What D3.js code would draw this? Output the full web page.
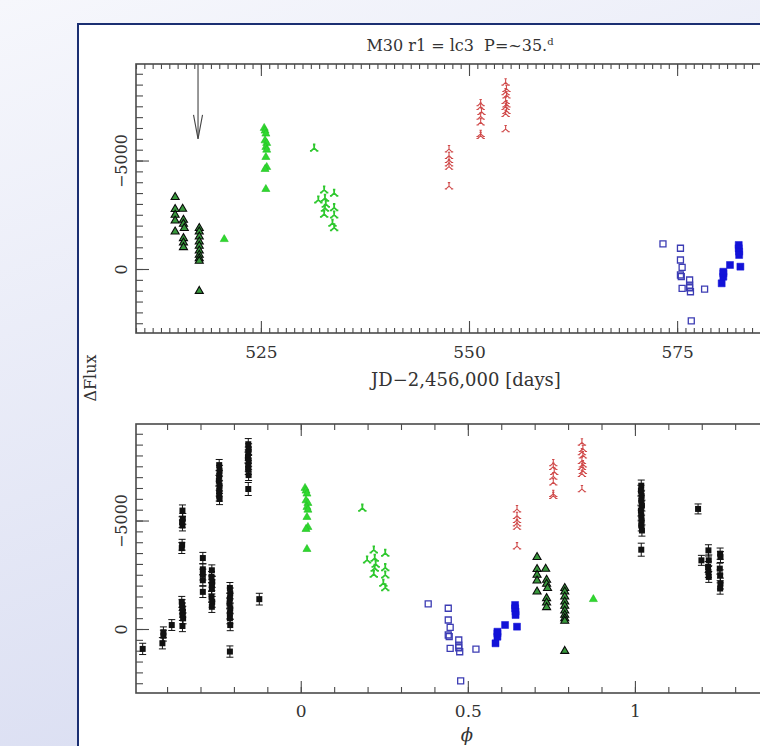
<!DOCTYPE html>
<html>
<head>
<meta charset="utf-8">
<script src="https://cdn.jsdelivr.net/npm/d3@7"></script>
<style>
  body { margin: 0; overflow: hidden; background: #fff; }
  text { font-family: "DejaVu Serif", serif; fill: #333; }
</style>
</head>
<body>
<script>
// ---- chart values ----
var period = 35.0, epoch = 524.95;
var arrowJD = 517.45, arrowFlux = -6000;

// dark green triangles (outlined)
var dkGreenJD   = [514.7, 514.7, 514.7, 514.7, 514.7,
                   515.6, 515.7, 515.7, 515.8, 515.7, 515.7, 515.7,
                   517.6, 517.6, 517.6, 517.6, 517.6, 517.6, 517.6, 517.6, 517.6, 517.6];
var dkGreenFlux = [-3310, -2756, -2493, -2230, -1722,
                   -2770, -2262, -2078, -1879, -1417, -1214, -1002,
                   -1879, -1722, -1491, -1260, -1062, -845, -646, -494, -369, 1016];

// bright green filled triangles
var grTriJD   = [520.6, 525.4, 525.5, 525.6, 525.5, 525.7, 525.6, 525.7, 525.6, 525.7, 525.5, 525.6];
var grTriFlux = [-1371, -6496, -6371, -6233, -5923, -5803, -5619, -5494, -5157, -4695, -4603, -3680];

// bright green tri-leg marks
var grLegJD   = [531.4, 532.6, 533.8, 531.9, 532.7, 532.8, 532.7, 533.8, 532.6, 533.8, 533.6, 533.8];
var grLegFlux = [-5573, -3647, -3495, -3186, -3264, -2987, -2802, -2830, -2525, -2493, -2110, -1907];

// red tri-leg marks
var redJD   = [547.6, 547.6, 547.6, 547.6, 547.6, 547.6,
               551.4, 551.4, 551.5, 551.4, 551.4, 551.4, 551.4,
               554.4, 554.5, 554.4, 554.5, 554.4, 554.5, 554.4, 554.5, 554.4, 554.4];
var redFlux = [-5526, -5217, -5032, -4880, -4723, -3818,
               -7650, -7479, -7248, -7031, -6764, -6233, -6140,
               -8601, -8310, -8158, -8010, -7756, -7595, -7479, -7294, -7156, -6450];

// blue open squares
var bOpenJD   = [573.3, 575.4, 575.4, 575.6, 575.4, 575.5, 575.6, 576.5, 576.5, 576.5, 576.6, 578.3, 576.7];
var bOpenFlux = [-1154, -956, -416, -78, 277, 355, 891, 508, 739, 863, 1048, 923, 2387];

// blue filled squares
var bFillJD   = [580.35, 580.55, 580.55, 580.55, 581.35, 582.4, 582.4, 582.45, 582.45, 582.6];
var bFillFlux = [660, 355, 198, 125, -185, -1108, -956, -800, -646, -108];

// black squares with error bars (phase panel only)
var blkPhase = [-0.473, -0.414, -0.411, -0.411, -0.386,
                -0.356, -0.355, -0.354, -0.353, -0.354, -0.352, -0.354,
                -0.356, -0.355, -0.354, -0.355, -0.353, -0.354,
                -0.293, -0.293, -0.293, -0.293, -0.293,
                -0.266, -0.267, -0.265, -0.266, -0.266, -0.267, -0.265, -0.266,
                -0.244, -0.243, -0.244, -0.245, -0.243, -0.244, -0.244, -0.243,
                -0.212, -0.211, -0.212, -0.213, -0.211, -0.212, -0.212, -0.211, -0.212,
                -0.157, -0.156, -0.157, -0.158, -0.156, -0.157, -0.157, -0.156, -0.157,
                -0.124,
                1.019, 1.018, 1.020, 1.019, 1.021, 1.018, 1.019, 1.020, 1.019, 1.021, 1.019,
                1.189, 1.199,
                1.220, 1.221, 1.219, 1.220, 1.221,
                1.255, 1.256, 1.254, 1.255, 1.256, 1.255];
var blkFlux  = [917, 657, 306, 153, -183,
                -1252, -1101, -948, -795, -642, -490, -138,
                -3730, -3884, -4771, -4924, -5076, -5459,
                -3271, -2752, -2509, -2248, -1711,
                -2706, -2399, -2170, -2018, -1867, -1482, -1252, -1023,
                -7555, -7294, -7064, -6835, -6606, -6376, -6147, -5994,
                -1894, -1638, -1408, -1179, -950, -720, -491, -183, 1040,
                -8518, -8289, -8135, -7905, -7752, -7523, -7370, -7095, -6454,
                -1376,
                -6606, -6376, -6147, -5917, -5688, -5459, -5229, -5000, -4771, -4541, -3656,
                -5535, -3165,
                -3624, -3165, -2859, -2629, -2399,
                -3472, -3317, -2783, -2477, -2096, -1867];
var blkErr   = [260, 260, 250, 250, 250,
                250, 250, 250, 250, 250, 250, 260,
                250, 250, 250, 250, 250, 260,
                260, 250, 250, 250, 260,
                250, 250, 250, 250, 250, 250, 250, 260,
                260, 250, 250, 250, 250, 250, 250, 260,
                250, 250, 250, 250, 250, 250, 250, 260, 260,
                260, 250, 250, 250, 250, 250, 250, 250, 300,
                270,
                260, 250, 250, 250, 250, 250, 250, 250, 250, 260, 300,
                230, 230,
                260, 250, 250, 250, 250,
                260, 250, 250, 250, 250, 260];

// axis ticks and labels
var jdMajor = [525, 550, 575];
var phMajor = [0, 0.5, 1, 1.5];
var phLabelled = [0, 0.5, 1];
var fluxMajor = [-5000, 0];
var titleMain = "M30 r1 = lc3  P=~35.";
var titleSup = "d";
var xLabelTop = "JD\u22122,456,000 [days]";
var xLabelBot = "\u03D5";
var yLabel = "\u0394Flux";

// ---- helpers ----
function zip(a, b) { return a.map(function(v, i){ return { x: v, f: b[i] }; }); }
function phase(jd) { var p = (jd - epoch) / period; return p - Math.floor(p); }
function range(a, b, s) { var out = []; for (var v = a; v <= b + 1e-9; v += s) out.push(+v.toFixed(4)); return out; }

var legPath = "M0,-3.6L0,0L-3,2.7M0,0L3,2.7M-1.2,-3.6L1.2,-3.6M-4.2,2.7L-2,2.7M2,2.7L4.2,2.7";
var triPath = d3.symbol().type(d3.symbolTriangle).size(28)();

var svg = d3.select("body").append("svg")
  .attr("width", 760).attr("height", 746);

var defs = svg.append("defs");
var grad = defs.append("linearGradient").attr("id", "bg")
  .attr("x1", 0).attr("y1", 0).attr("x2", 0.35).attr("y2", 1);
grad.append("stop").attr("offset", 0).attr("stop-color", "#f6f7fc");
grad.append("stop").attr("offset", 1).attr("stop-color", "#dadef2");

svg.append("rect").attr("width", 760).attr("height", 746).attr("fill", "url(#bg)");
svg.append("rect").attr("x", 78).attr("y", 24).attr("width", 800).attr("height", 800)
  .attr("fill", "#fff").attr("stroke", "#1b2f72").attr("stroke-width", 2);

// ---- frames ----
function frame(g, x, y, top, bot, left, right, xMinor, yMinor, xMinLen, xFmt) {
  var ax = "#4a4a4a";
  function style(sel) {
    sel.select(".domain").remove();
    sel.selectAll("line").attr("stroke", ax).attr("stroke-width", 1.1);
  }
  // bottom
  g.append("g").attr("transform", "translate(0," + bot + ")")
    .call(d3.axisBottom(x).tickValues(xMinor).tickSize(-xMinLen).tickFormat("")).call(style);
  var xb = g.append("g").attr("transform", "translate(0," + bot + ")")
    .call(d3.axisBottom(x).tickValues(xFmt.ticks).tickSize(-12).tickFormat(xFmt.fmt)).call(style);
  xb.selectAll("text").filter(function(d){ return xFmt.labelled.indexOf(d) < 0; }).remove();
  xb.selectAll("text").attr("y", xFmt.dy).attr("dy", null)
    .style("font-size", "17px").style("font-family", "DejaVu Serif").attr("fill", "#333");
  // top
  g.append("g").attr("transform", "translate(0," + top + ")")
    .call(d3.axisTop(x).tickValues(xMinor).tickSize(-xMinLen).tickFormat("")).call(style);
  g.append("g").attr("transform", "translate(0," + top + ")")
    .call(d3.axisTop(x).tickValues(xFmt.ticks).tickSize(-12).tickFormat("")).call(style);
  // left
  g.append("g").attr("transform", "translate(" + left + ",0)")
    .call(d3.axisLeft(y).tickValues(yMinor).tickSize(-7).tickFormat("")).call(style);
  var yl = g.append("g").attr("transform", "translate(" + left + ",0)")
    .call(d3.axisLeft(y).tickValues(fluxMajor).tickSize(-13).tickFormat(d3.format("d"))).call(style);
  yl.selectAll("text").attr("x", null).attr("dy", null)
    .attr("transform", "translate(-9,0) rotate(-90)").attr("text-anchor", "middle")
    .style("font-size", "16px").style("font-family", "DejaVu Serif").attr("fill", "#333");
  // right
  g.append("g").attr("transform", "translate(" + right + ",0)")
    .call(d3.axisRight(y).tickValues(yMinor).tickSize(-7).tickFormat("")).call(style);
  g.append("g").attr("transform", "translate(" + right + ",0)")
    .call(d3.axisRight(y).tickValues(fluxMajor).tickSize(-13).tickFormat("")).call(style);
  g.append("rect").attr("x", left).attr("y", top).attr("width", right - left).attr("height", bot - top)
    .attr("fill", "none").attr("stroke", ax).attr("stroke-width", 1.6);
}

var L = 136, R = 802;
var fluxMinor = range(-9000, 2500, 500);

// ---- top panel: JD ----
var T1 = 64, B1 = 333;
var xJD = d3.scaleLinear().domain([510, 590]).range([L, R]);
var yT = d3.scaleLinear().domain([-9450, 2950]).range([T1, B1]);
var gTop = svg.append("g");
frame(gTop, xJD, yT, T1, B1, L, R, range(510, 590, 1), fluxMinor, 5,
      { ticks: jdMajor, labelled: jdMajor, fmt: d3.format("d"), dy: 25 });

// ---- bottom panel: phase ----
var T2 = 424, B2 = 693;
var xPh = d3.scaleLinear().domain([-0.493, 1.5]).range([L, R]);
var yB = d3.scaleLinear().domain([-9450, 2950]).range([T2, B2]);
var gBot = svg.append("g");
frame(gBot, xPh, yB, T2, B2, L, R, range(-0.4, 1.5, 0.1), fluxMinor, 6,
      { ticks: phMajor, labelled: phLabelled, fmt: d3.format("~g"), dy: 24 });

// ---- marks ----
function drawSeries(g, x, y, data, kind) {
  var sel = g.append("g").selectAll("path").data(data).join("path")
    .attr("transform", function(d){ return "translate(" + x(d.x) + "," + y(d.f) + ")"; });
  if (kind === "dkTri") sel.attr("d", triPath).attr("fill", "#38993c").attr("stroke", "#0a0a0a").attr("stroke-width", 1.1);
  if (kind === "grTri") sel.attr("d", triPath).attr("fill", "#2fd82f").attr("stroke", "#24c024").attr("stroke-width", 0.6);
  if (kind === "grLeg") sel.attr("d", legPath).attr("fill", "none").attr("stroke", "#2ec82e").attr("stroke-width", 1.8);
  if (kind === "red")   sel.attr("d", legPath).attr("fill", "none").attr("stroke", "#d04a4a").attr("stroke-width", 1.1);
  if (kind === "bOpen") sel.attr("d", "M-3,-3H3V3H-3Z").attr("fill", "none").attr("stroke", "#3c3cb4").attr("stroke-width", 1.3);
  if (kind === "bFill") sel.attr("d", "M-3.5,-3.5H3.5V3.5H-3.5Z").attr("fill", "#1212d8").attr("stroke", "#1212d8").attr("stroke-width", 0.5);
}

var seriesList = [
  { jd: dkGreenJD, f: dkGreenFlux, kind: "dkTri" },
  { jd: grTriJD,   f: grTriFlux,   kind: "grTri" },
  { jd: grLegJD,   f: grLegFlux,   kind: "grLeg" },
  { jd: redJD,     f: redFlux,     kind: "red" },
  { jd: bOpenJD,   f: bOpenFlux,   kind: "bOpen" },
  { jd: bFillJD,   f: bFillFlux,   kind: "bFill" }
];

// black error-bar points (phase panel)
var blk = blkPhase.map(function(p, i){ return { x: p, f: blkFlux[i], e: blkErr[i] }; });
var gErr = gBot.append("g").attr("stroke", "#111").attr("stroke-width", 1);
gErr.selectAll("line.v").data(blk).join("line").attr("class", "v")
  .attr("x1", function(d){ return xPh(d.x); }).attr("x2", function(d){ return xPh(d.x); })
  .attr("y1", function(d){ return yB(d.f - d.e); }).attr("y2", function(d){ return yB(d.f + d.e); });
gErr.selectAll("line.c1").data(blk).join("line").attr("class", "c1")
  .attr("x1", function(d){ return xPh(d.x) - 3.5; }).attr("x2", function(d){ return xPh(d.x) + 3.5; })
  .attr("y1", function(d){ return yB(d.f - d.e); }).attr("y2", function(d){ return yB(d.f - d.e); });
gErr.selectAll("line.c2").data(blk).join("line").attr("class", "c2")
  .attr("x1", function(d){ return xPh(d.x) - 3.5; }).attr("x2", function(d){ return xPh(d.x) + 3.5; })
  .attr("y1", function(d){ return yB(d.f + d.e); }).attr("y2", function(d){ return yB(d.f + d.e); });
gBot.append("g").selectAll("rect").data(blk).join("rect")
  .attr("x", function(d){ return xPh(d.x) - 3; }).attr("y", function(d){ return yB(d.f) - 3; })
  .attr("width", 6).attr("height", 6).attr("fill", "#111");

seriesList.forEach(function(s){
  drawSeries(gTop, xJD, yT, zip(s.jd, s.f), s.kind);
  drawSeries(gBot, xPh, yB, zip(s.jd.map(phase), s.f), s.kind);
});

// arrow marking the epoch
gTop.append("line").attr("x1", xJD(arrowJD)).attr("x2", xJD(arrowJD))
  .attr("y1", T1).attr("y2", yT(arrowFlux)).attr("stroke", "#444").attr("stroke-width", 1.1);
gTop.append("path")
  .attr("d", "M" + (xJD(arrowJD) - 4.5) + "," + (yT(arrowFlux) - 24) + "L" + xJD(arrowJD) + "," + yT(arrowFlux) +
             "L" + (xJD(arrowJD) + 4.5) + "," + (yT(arrowFlux) - 24))
  .attr("fill", "none").attr("stroke", "#444").attr("stroke-width", 1.1);

// ---- text ----
var t = svg.append("text").attr("x", 460).attr("y", 51).attr("text-anchor", "middle")
  .style("font-size", "16px").attr("xml:space", "preserve");
t.append("tspan").text(titleMain);
t.append("tspan").attr("dy", -6).style("font-size", "10px").text(titleSup);

svg.append("text").attr("x", 466).attr("y", 386).attr("text-anchor", "middle")
  .style("font-size", "18px").text(xLabelTop);
svg.append("text").attr("x", 467).attr("y", 741).attr("text-anchor", "middle")
  .style("font-size", "18px").style("font-style", "italic").text(xLabelBot);
svg.append("text").attr("transform", "translate(96,378) rotate(-90)").attr("text-anchor", "middle")
  .style("font-size", "16px").text(yLabel);
</script>
</body>
</html>
